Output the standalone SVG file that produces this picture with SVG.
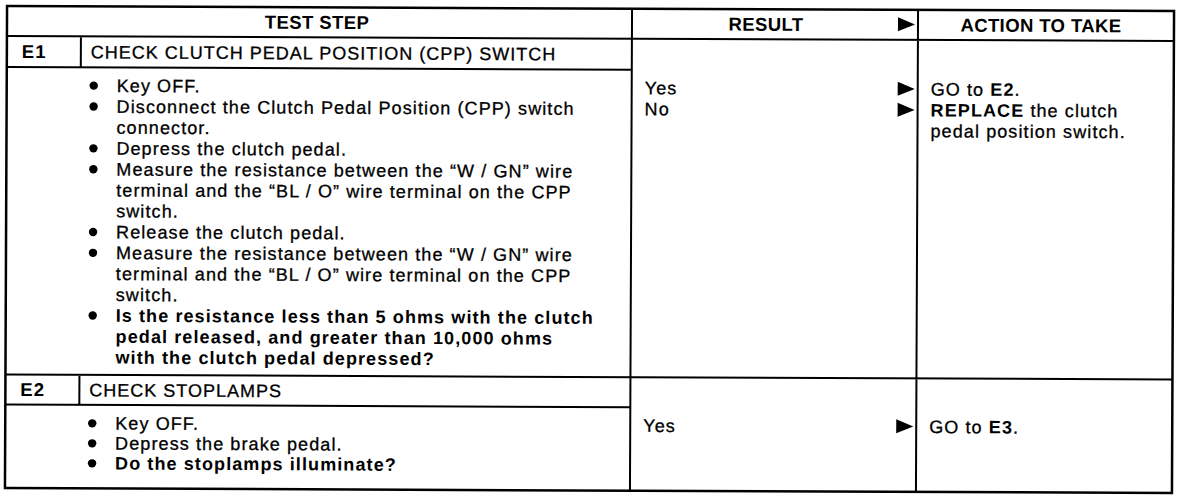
<svg xmlns="http://www.w3.org/2000/svg" xmlns:xlink="http://www.w3.org/1999/xlink" width="1184" height="500" viewBox="0 0 1184 500">
<defs>
<style>
.t{font-family:"Liberation Sans",Arial,sans-serif;font-size:18px;letter-spacing:1.1px;fill:#000;stroke:#000;stroke-width:0.3}
.h{font-family:"Liberation Sans",Arial,sans-serif;font-size:18.5px;font-weight:bold;letter-spacing:0.4px;fill:#000}
.rh{font-family:"Liberation Sans",Arial,sans-serif;font-size:18px;letter-spacing:1px;fill:#000;stroke:#000;stroke-width:0.3}
.lb{font-family:"Liberation Sans",Arial,sans-serif;font-size:18.5px;font-weight:bold;letter-spacing:1px;fill:#000}
.b{font-weight:bold;stroke-width:0}
.grid{fill:none;stroke:#000;stroke-width:2}
</style>
<path id="arr" d="M-17,-7 L0,0 L-17,7 Z" fill="#000"/>
<circle id="dot" r="4.2" fill="#000"/>
</defs>
<rect x="0" y="0" width="1184" height="500" fill="#fff"/>
<g transform="rotate(0.25 590 250)">
<g id="grid" class="grid">
<rect x="6" y="8.5" width="1167" height="482" stroke-width="2.5"/>
<path d="M6 38.5H1173M631 8.5V490.5M917 8.5V490.5M6 69.5H631M80 38.5V69.5M6 377H1173M6 407H631M80 377V407"/>
</g>
<g id="header">
<text class="h" x="316" y="30" text-anchor="middle">TEST STEP</text>
<text class="h" x="765" y="30" text-anchor="middle">RESULT</text>
<text class="h" x="1040" y="30" text-anchor="middle">ACTION TO TAKE</text>
</g>
<g id="step-E1">
<text class="lb" x="21" y="60.5">E1</text>
<text class="rh" x="90" y="60.5">CHECK CLUTCH PEDAL POSITION (CPP) SWITCH</text>
<use xlink:href="#dot" x="93" y="87.8"/>
<use xlink:href="#dot" x="93" y="108.7"/>
<use xlink:href="#dot" x="93" y="150.5"/>
<use xlink:href="#dot" x="93" y="171.4"/>
<use xlink:href="#dot" x="93" y="234.1"/>
<use xlink:href="#dot" x="93" y="255"/>
<use xlink:href="#dot" x="93" y="317.7"/>
<text class="t" x="116" y="94">Key OFF.</text>
<text class="t" x="116" y="114.9">Disconnect the Clutch Pedal Position (CPP) switch</text>
<text class="t" x="116" y="135.8">connector.</text>
<text class="t" x="116" y="156.7">Depress the clutch pedal.</text>
<text class="t" x="116" y="177.6">Measure the resistance between the “W / GN” wire</text>
<text class="t" x="116" y="198.5">terminal and the “BL / O” wire terminal on the CPP</text>
<text class="t" x="116" y="219.4">switch.</text>
<text class="t" x="116" y="240.3">Release the clutch pedal.</text>
<text class="t" x="116" y="261.2">Measure the resistance between the “W / GN” wire</text>
<text class="t" x="116" y="282.1">terminal and the “BL / O” wire terminal on the CPP</text>
<text class="t" x="116" y="303">switch.</text>
<text class="t b" x="116" y="323.9">Is the resistance less than 5 ohms with the clutch</text>
<text class="t b" x="116" y="344.8">pedal released, and greater than 10,000 ohms</text>
<text class="t b" x="116" y="365.7">with the clutch pedal depressed?</text>
</g>
<g id="result-E1">
<text class="t" x="644" y="94">Yes</text>
<text class="t" x="644" y="114.9">No</text>
</g>
<g id="action-E1">
<text class="t" x="930" y="94">GO to <tspan class="b">E2</tspan>.</text>
<text class="t" x="930" y="114.9"><tspan class="b">REPLACE</tspan> the clutch</text>
<text class="t" x="930" y="135.8">pedal position switch.</text>
</g>
<g id="step-E2">
<text class="lb" x="21" y="398.5">E2</text>
<text class="rh" x="90" y="398.5">CHECK STOPLAMPS</text>
<use xlink:href="#dot" x="93" y="425.5"/>
<use xlink:href="#dot" x="93" y="445.5"/>
<use xlink:href="#dot" x="93" y="465.5"/>
<text class="t" x="116" y="431.6">Key OFF.</text>
<text class="t" x="116" y="451.6">Depress the brake pedal.</text>
<text class="t b" x="116" y="471.6">Do the stoplamps illuminate?</text>
</g>
<g id="result-E2">
<text class="t" x="644" y="431.6">Yes</text>
</g>
<g id="action-E2">
<text class="t" x="930" y="431.6">GO to <tspan class="b">E3</tspan>.</text>
</g>
<g id="connectors">
<use xlink:href="#arr" x="914" y="23"/>
<use xlink:href="#arr" x="914" y="87.5"/>
<use xlink:href="#arr" x="914" y="108.5"/>
<use xlink:href="#arr" x="914" y="425"/>
</g>
</g>
</svg>
